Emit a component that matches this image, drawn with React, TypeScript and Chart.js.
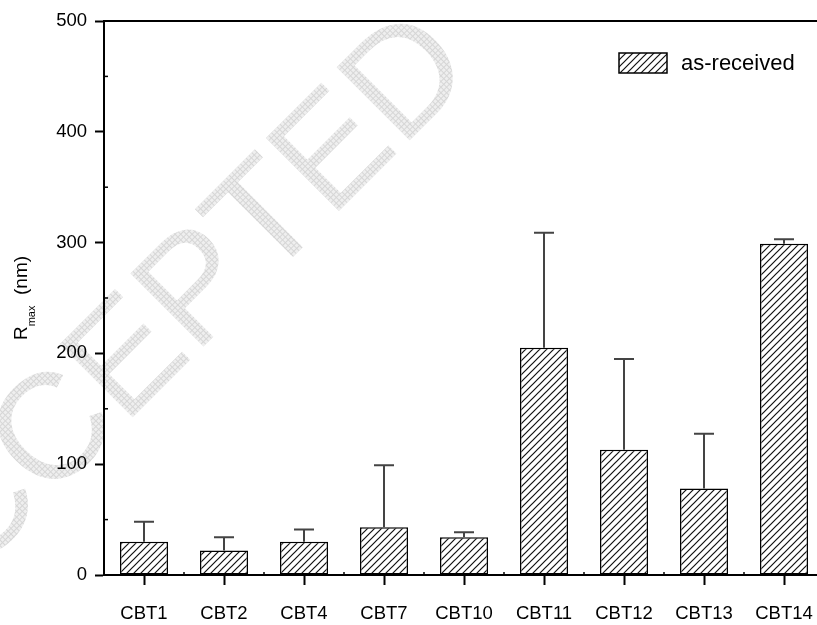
import React, { useEffect, useRef } from "react";
import { Chart, registerables } from "chart.js";

Chart.register(...registerables);

const categories = ["CBT1", "CBT2", "CBT4", "CBT7", "CBT10", "CBT11", "CBT12", "CBT13", "CBT14"];
const values = [30, 22, 30, 43, 34, 205, 113, 78, 299];
const errors = [18, 12, 11, 56, 4.5, 104, 82, 49.5, 4];
const yMin = 0;
const yMax = 500;
const yStep = 100;
const yMinorStep = 50;
const seriesLabel = "as-received";
const yTitleMain = "R";
const yTitleSub = "max";
const yTitleUnit = "(nm)";
const watermarkText = "ACCEPTED";

const FONT = "'Liberation Sans', Arial, sans-serif";

function makeHatch(): CanvasPattern | string {
  const c = document.createElement("canvas");
  const s = 7;
  c.width = s;
  c.height = s;
  const g = c.getContext("2d");
  if (!g) return "#fff";
  g.fillStyle = "#fff";
  g.fillRect(0, 0, s, s);
  g.strokeStyle = "#111";
  g.lineWidth = 1.2;
  g.beginPath();
  g.moveTo(-1, s + 1);
  g.lineTo(s + 1, -1);
  g.moveTo(-2, 2);
  g.lineTo(2, -2);
  g.moveTo(s - 2, s + 2);
  g.lineTo(s + 2, s - 2);
  g.stroke();
  const p = g.createPattern(c, "repeat");
  return p || "#fff";
}

function makeCrossHatch(): CanvasPattern | string {
  const c = document.createElement("canvas");
  const s = 4;
  c.width = s;
  c.height = s;
  const g = c.getContext("2d");
  if (!g) return "#e8e8e8";
  g.fillStyle = "#efefef";
  g.fillRect(0, 0, s, s);
  g.fillStyle = "#d6d6d6";
  g.fillRect(0, 0, s, 1);
  g.fillRect(0, 0, 1, s);
  const p = g.createPattern(c, "repeat");
  return p || "#e8e8e8";
}

export default function App() {
  const ref = useRef<HTMLCanvasElement | null>(null);

  useEffect(() => {
    const canvas = ref.current;
    if (!canvas) return;
    const hatch = makeHatch();
    const cross = makeCrossHatch();

    const watermark = {
      id: "watermark",
      beforeDraw(chart: any) {
        const ctx = chart.ctx;
        ctx.save();
        ctx.translate(-100, 650);
        ctx.rotate(-Math.PI / 4);
        ctx.fillStyle = cross as any;
        ctx.font = `150px ${FONT}`;
        ctx.textBaseline = "alphabetic";
        ctx.textAlign = "left";
        ctx.fillText(watermarkText, 0, 0);
        ctx.restore();
      },
    };

    const decor = {
      id: "decor",
      afterDatasetsDraw(chart: any) {
        const ctx = chart.ctx;
        const ys = chart.scales.y;
        const meta = chart.getDatasetMeta(0);
        ctx.save();
        ctx.strokeStyle = "#444";
        ctx.lineWidth = 2;
        meta.data.forEach((bar: any, i: number) => {
          const x = bar.x;
          const y0 = ys.getPixelForValue(values[i]);
          const y1 = ys.getPixelForValue(values[i] + errors[i]);
          ctx.beginPath();
          ctx.moveTo(x, y0);
          ctx.lineTo(x, y1);
          ctx.moveTo(x - 10, y1);
          ctx.lineTo(x + 10, y1);
          ctx.stroke();
        });
        ctx.restore();
      },
      afterDraw(chart: any) {
        const ctx = chart.ctx;
        const a = chart.chartArea;
        const ys = chart.scales.y;
        const xs = chart.scales.x;
        ctx.save();
        // top frame line
        ctx.strokeStyle = "#000";
        ctx.lineWidth = 2;
        ctx.beginPath();
        ctx.moveTo(a.left - 1, a.top);
        ctx.lineTo(a.right, a.top);
        ctx.stroke();
        // minor y ticks (inside)
        ctx.lineWidth = 1.5;
        for (let v = yMin + yMinorStep; v < yMax; v += yStep) {
          const y = ys.getPixelForValue(v);
          ctx.beginPath();
          ctx.moveTo(a.left, y);
          ctx.lineTo(a.left + 4, y);
          ctx.stroke();
        }
        // minor x ticks at category boundaries
        for (let i = 0; i < categories.length - 1; i++) {
          const x = (xs.getPixelForValue(i) + xs.getPixelForValue(i + 1)) / 2;
          ctx.beginPath();
          ctx.moveTo(x, a.bottom);
          ctx.lineTo(x, a.bottom - 3);
          ctx.stroke();
        }
        // legend
        const lx = 619, ly = 53, lw = 48, lh = 20;
        ctx.fillStyle = hatch as any;
        ctx.fillRect(lx, ly, lw, lh);
        ctx.strokeStyle = "#000";
        ctx.lineWidth = 1.5;
        ctx.strokeRect(lx, ly, lw, lh);
        ctx.fillStyle = "#000";
        ctx.font = `22px ${FONT}`;
        ctx.textAlign = "left";
        ctx.textBaseline = "middle";
        ctx.fillText(seriesLabel, 681, ly + lh / 2 + 1);
        // y title with subscript
        const cy = (a.top + a.bottom) / 2;
        ctx.translate(27, cy);
        ctx.rotate(-Math.PI / 2);
        const mainFont = `19px ${FONT}`;
        const subFont = `11px ${FONT}`;
        ctx.font = mainFont;
        const wR = ctx.measureText(yTitleMain).width;
        const wU = ctx.measureText("  " + yTitleUnit).width;
        ctx.font = subFont;
        const wS = ctx.measureText(yTitleSub).width;
        const total = wR + wS + wU;
        let x = -total / 2;
        ctx.textBaseline = "alphabetic";
        ctx.font = mainFont;
        ctx.fillText(yTitleMain, x, 0);
        x += wR;
        ctx.font = subFont;
        ctx.fillText(yTitleSub, x, 8);
        x += wS;
        ctx.font = mainFont;
        ctx.fillText("  " + yTitleUnit, x, 0);
        ctx.restore();
      },
    };

    const chart = new Chart(canvas, {
      type: "bar",
      data: {
        labels: categories,
        datasets: [
          {
            label: seriesLabel,
            data: values,
            backgroundColor: hatch as any,
            borderColor: "#000",
            borderWidth: 1.5,
            borderSkipped: false,
            barPercentage: 0.6,
            categoryPercentage: 1,
          },
        ],
      },
      options: {
        responsive: false,
        animation: false,
        layout: { padding: { top: 21, right: 16, left: 0, bottom: 0 } },
        plugins: {
          legend: { display: false },
          tooltip: { enabled: false },
        },
        scales: {
          x: {
            type: "category",
            grid: {
              offset: false,
              drawOnChartArea: false,
              drawTicks: true,
              tickLength: 10,
              tickWidth: 2,
              tickColor: "#000",
            },
            border: { color: "#000", width: 2 },
            ticks: {
              color: "#000",
              padding: 18,
              font: { family: FONT, size: 18.5 },
              maxRotation: 0,
              autoSkip: false,
            },
            afterFit(scale: any) {
              scale.height = 50;
            },
          },
          y: {
            min: yMin,
            max: yMax,
            grid: {
              drawOnChartArea: false,
              drawTicks: true,
              tickLength: 9,
              tickWidth: 2,
              tickColor: "#000",
            },
            border: { color: "#000", width: 2 },
            ticks: {
              stepSize: yStep,
              color: "#000",
              padding: 8,
              font: { family: FONT, size: 18.5 },
            },
            afterFit(scale: any) {
              scale.width = 104;
            },
          },
        },
      },
      plugins: [watermark, decor],
    });

    return () => chart.destroy();
  }, []);

  return (
    <div style={{ position: "fixed", left: 0, top: 0, width: 840, height: 625, background: "#fff" }}>
      <canvas ref={ref} width={840} height={625} style={{ display: "block" }} />
    </div>
  );
}
